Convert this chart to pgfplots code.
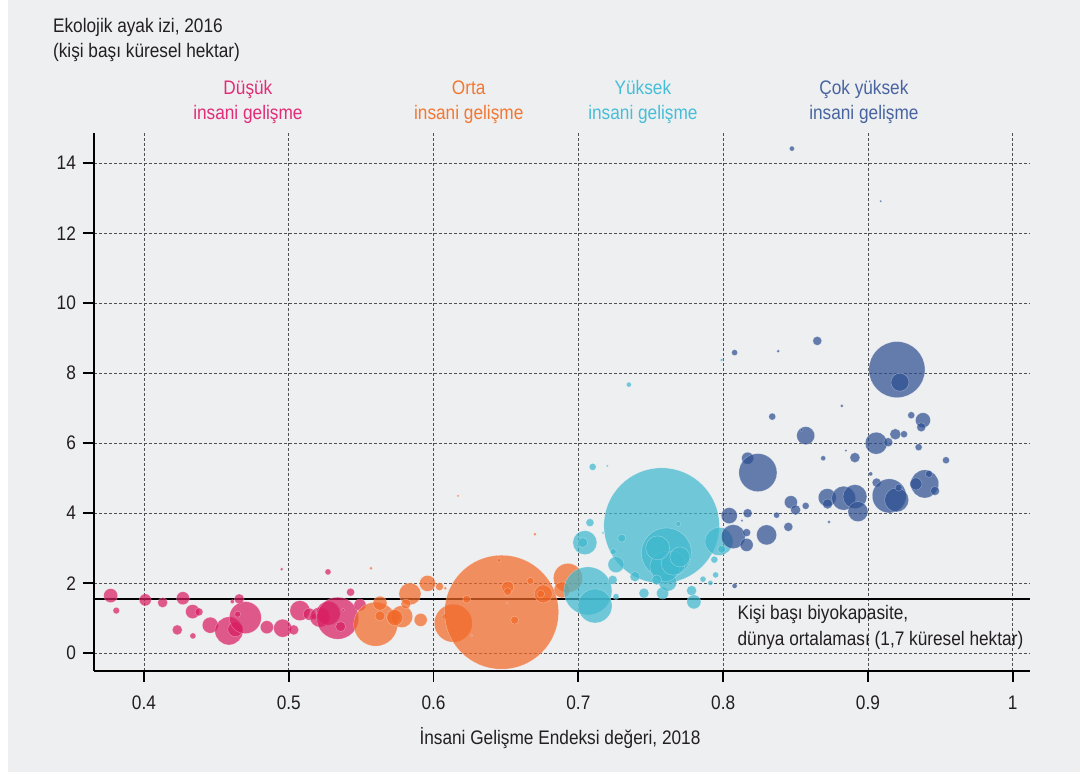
\documentclass[border=0pt]{standalone}
\usepackage{fontspec}
\setmainfont{Liberation Sans}[FakeStretch=0.88]
\usepackage{pgfplots}
\usepackage{pgfplotstable}
\pgfplotsset{compat=1.18}
\definecolor{cLow}{RGB}{216,30,98}
\definecolor{cMed}{RGB}{242,105,40}
\definecolor{cHigh}{RGB}{64,184,206}
\definecolor{cVhigh}{RGB}{46,80,146}
\definecolor{tLow}{RGB}{226,44,120}
\definecolor{tMed}{RGB}{242,120,50}
\definecolor{tHigh}{RGB}{70,190,215}
\definecolor{tVhigh}{RGB}{72,100,160}
\definecolor{bgGray}{RGB}{238,239,241}
\definecolor{tDark}{RGB}{35,31,32}
\definecolor{gridC}{RGB}{80,80,80}
\newcommand{\lbl}{\fontsize{9.8}{12}\selectfont}

\pgfplotstableread{
x y r
0.3770 1.646 3.5
0.3809 1.217 1.65
0.4009 1.523 3
0.4129 1.446 2.5
0.4269 1.571 3.25
0.4336 1.189 3.5
0.4380 1.180 2
0.4230 0.666 2.5
0.4338 0.494 1.5
0.4458 0.800 4
0.4587 0.637 7
0.4631 0.686 3.75
0.4700 1.017 8
0.4658 1.551 2.5
0.4647 1.114 1.5
0.4610 1.474 1
0.4849 0.743 3.25
0.4958 0.714 4.5
0.5034 0.666 2.5
0.5077 1.217 5
0.5142 1.114 3
0.5174 1.046 1.5
0.5215 1.029 5
0.5273 1.143 6
0.5338 1.000 10.5
0.5358 0.760 2.5
0.5427 1.743 2
0.5492 1.380 3
0.4951 2.400 0.8
0.5271 2.323 1.5
0.5376 1.237 0.8
}\lowT

\pgfplotstableread{
x y r
0.5600 0.829 11
0.5630 1.429 3.5
0.5630 1.066 2.5
0.5722 1.046 3.5
0.5780 1.046 5.5
0.5733 1.017 4
0.5837 1.694 5.5
0.5809 1.409 2.5
0.5911 0.951 3.25
0.5958 1.994 4
0.6041 1.903 2
0.6081 1.857 0.8
0.5568 2.429 0.8
0.6136 0.857 9.5
0.6079 1.046 1.5
0.6470 1.171 28.5
0.6452 2.657 1
0.6512 1.886 3
0.6512 1.760 2
0.6229 1.543 2
0.6560 0.943 2
0.6669 2.066 1.75
0.6758 1.694 4.5
0.6740 1.694 2
0.6928 2.151 7.25
0.6887 1.809 4
0.6509 1.429 0.6
0.6263 0.503 0.6
0.6700 3.400 0.8
0.6169 4.494 0.6
}\medT

\pgfplotstableread{
x y r
0.7575 3.646 28.85
0.7608 2.866 12.5
0.7349 7.674 1.25
0.7990 8.380 0.8
0.7099 5.323 1.75
0.7200 5.351 0.6
0.7080 3.731 2
0.7045 3.160 6
0.7030 3.160 2.5
0.7299 3.286 2
0.7260 2.531 4
0.7241 2.903 1.5
0.7391 2.189 2.5
0.7066 1.780 12
0.7115 1.351 8.5
0.7237 2.094 2.25
0.7453 1.714 2.5
0.7582 1.714 3
0.7617 2.029 4.5
0.7690 3.694 1.25
0.7971 3.194 7
0.7990 2.971 2
0.7939 2.674 1.75
0.7948 2.237 1.5
0.7861 2.114 1.5
0.7912 2.009 1.25
0.7782 1.789 2.5
0.7798 1.466 3.5
0.7598 2.474 7.5
0.7655 2.571 6
0.7541 2.094 2.5
0.7260 1.617 1.5
0.7170 3.437 0.6
0.7548 3.009 6
0.7701 2.751 5
}\highT

\pgfplotstableread{
x y r
0.8650 8.923 2.25
0.8079 8.589 1.5
0.8380 8.629 0.8
0.9200 8.103 14
0.9221 7.743 4.5
0.8820 7.066 0.8
0.8339 6.760 1.75
0.8570 6.217 4.5
0.8542 6.380 0.8
0.9299 6.800 1.75
0.9380 6.657 3.75
0.9368 6.457 2.25
0.9189 6.257 2.75
0.9249 6.257 1.75
0.9057 6.000 5.5
0.9140 6.029 2.25
0.9350 5.886 1.75
0.9539 5.514 1.75
0.8848 5.789 0.6
0.8910 5.589 2.5
0.8691 5.571 1.25
0.8169 5.571 3
0.8240 5.160 9.5
0.9019 5.123 1
0.9060 4.874 2.25
0.9147 4.494 8.5
0.9198 4.380 6
0.9212 4.731 1.75
0.9392 4.837 7
0.9331 4.837 3
0.9421 5.123 1.75
0.9463 4.637 2.25
0.8719 4.446 4.5
0.8721 4.266 2.5
0.8832 4.429 6
0.8910 4.474 6
0.8931 4.046 5
0.8468 4.314 3.25
0.8500 4.094 2.5
0.8570 4.209 1.75
0.8369 3.943 1.5
0.8169 4.000 2.25
0.8042 3.931 4
0.8731 3.751 0.8
0.8300 3.380 5
0.8450 3.609 2.25
0.8070 3.331 6
0.8162 3.446 2
0.8162 3.094 3.25
0.8079 1.923 1.25
0.8130 3.789 0.6
0.8475 14.417 1.25
0.9088 12.914 0.6
}\vhighT

\pgfplotsset{
  bub/.style={scatter, only marks, mark=*,
    scatter/use mapped color={draw=white, fill=#1, fill opacity=0.72, draw opacity=0.4},
    visualization depends on={\thisrow{r} \as \rr},
    scatter/@pre marker code/.append style={/tikz/mark size=\rr},
    mark options={line width=0.2pt}},
}

\begin{document}
\begin{tikzpicture}
\fill[white] (-47pt,-52.15pt) rectangle (497.5pt,335.35pt);
\fill[bgGray] (-43pt,-50.65pt) rectangle (493pt,335.35pt);
\begin{axis}[
  at={(0pt,0pt)}, anchor=south west,
  scale only axis, width=467.85pt, height=268.95pt,
  xmin=0.3655, xmax=1.0117, ymin=-0.5, ymax=14.87,
  axis lines=left,
  axis line style={-, line width=0.9pt, black},
  xtick={0.4,0.5,0.6,0.7,0.8,0.9,1},
  xticklabels={0.4,0.5,0.6,0.7,0.8,0.9,1},
  ytick={0,2,4,6,8,10,12,14},
  yticklabels={0,2,4,6,8,10,12,14},
  tick align=outside,
  major tick length=5.5pt,
  tick style={black, line width=0.9pt},
  grid=major,
  major grid style={gridC, line width=0.45pt, dash pattern=on 1.5pt off 1pt},
  ticklabel style={font=\lbl, text=tDark},
  xticklabel style={yshift=-3.5pt},
  /pgf/number format/assume math mode=true,
  clip=false,
]
\addplot[bub=cLow] table[x=x,y=y] {\lowT};
\addplot[bub=cMed] table[x=x,y=y] {\medT};
\addplot[bub=cHigh] table[x=x,y=y] {\highT};
\addplot[bub=cVhigh] table[x=x,y=y] {\vhighT};
\addplot[black, line width=1pt] coordinates {(0.3655,1.56) (1.0117,1.56)};

\node[anchor=base west, font=\lbl, text=tDark, inner sep=0pt] at (axis cs:0.33695,17.743) {Ekolojik ayak izi, 2016};
\node[anchor=base west, font=\lbl, text=tDark, inner sep=0pt] at (axis cs:0.33695,17.029) {(kişi başı küresel hektar)};

\node[anchor=base, font=\lbl, text=tLow, inner sep=0pt] at (axis cs:0.4718,15.951) {Düşük};
\node[anchor=base, font=\lbl, text=tLow, inner sep=0pt] at (axis cs:0.4718,15.237) {insani gelişme};
\node[anchor=base, font=\lbl, text=tMed, inner sep=0pt] at (axis cs:0.6243,15.951) {Orta};
\node[anchor=base, font=\lbl, text=tMed, inner sep=0pt] at (axis cs:0.6243,15.237) {insani gelişme};
\node[anchor=base, font=\lbl, text=tHigh, inner sep=0pt] at (axis cs:0.7446,15.951) {Yüksek};
\node[anchor=base, font=\lbl, text=tHigh, inner sep=0pt] at (axis cs:0.7446,15.237) {insani gelişme};
\node[anchor=base, font=\lbl, text=tVhigh, inner sep=0pt] at (axis cs:0.8972,15.951) {Çok yüksek};
\node[anchor=base, font=\lbl, text=tVhigh, inner sep=0pt] at (axis cs:0.8972,15.237) {insani gelişme};

\node[anchor=base west, font=\lbl, text=tDark, inner sep=0pt] at (axis cs:0.8097,0.951) {Kişi başı biyokapasite,};
\node[anchor=base west, font=\lbl, text=tDark, inner sep=0pt] at (axis cs:0.8097,0.217) {dünya ortalaması (1,7 küresel hektar)};

\node[anchor=base, font=\lbl, text=tDark, inner sep=0pt] at (axis cs:0.6873,-2.62) {İnsani Gelişme Endeksi değeri, 2018};
\end{axis}
\pgfresetboundingbox
\useasboundingbox (-47pt,-52.15pt) rectangle (497.5pt,335.35pt);
\end{tikzpicture}
\end{document}
